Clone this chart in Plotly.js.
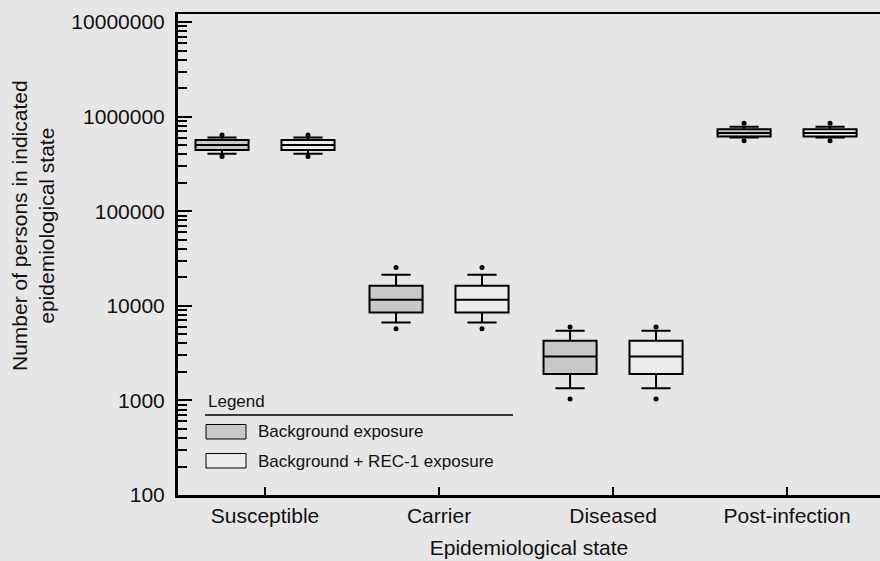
<!DOCTYPE html>
<html>
<head>
<meta charset="utf-8">
<script src="https://cdn.plot.ly/plotly-3.0.1.min.js"></script>
<style>html,body{margin:0;padding:0;background:#e6e6e6;}#chart{width:880px;height:561px;}</style>
</head>
<body>
<div id="chart"></div>
<script>
// Data
const categories = ['Susceptible', 'Carrier', 'Diseased', 'Post-infection'];
const seriesNames = ['Background exposure', 'Background + REC-1 exposure'];
const q1 = [445000, 8510, 1905, 615000];
const median = [502000, 11600, 2920, 673000];
const q3 = [567000, 16300, 4280, 736000];
const lowerWhisker = [406000, 6680, 1343, 600000];
const upperWhisker = [600000, 21300, 5460, 783000];
const lowOutlier = [378000, 5730, 1038, 555000];
const highOutlier = [641000, 25400, 5970, 851000];
const yTickVals = [100, 1000, 10000, 100000, 1000000, 10000000];
const yTickText = ['100', '1000', '10000', '100000', '1000000', '10000000'];

const fills = ['#c8c8c8', '#ebebeb'];
const offsets = [-0.247, 0.247];
const FONT = 'Liberation Sans, Arial, Helvetica, sans-serif';

const traces = [];
seriesNames.forEach((name, s) => {
  const xs = categories.map((c, i) => i + offsets[s]);
  traces.push({
    type: 'box', name: name, x: xs,
    q1: q1, median: median, q3: q3,
    lowerfence: lowerWhisker, upperfence: upperWhisker,
    width: 0.305, whiskerwidth: 0.55, boxpoints: false,
    fillcolor: fills[s], line: {color: '#000', width: 2},
    hoverinfo: 'skip', showlegend: false
  });
  traces.push({
    type: 'scatter', mode: 'markers', x: xs.concat(xs),
    y: lowOutlier.concat(highOutlier),
    marker: {color: '#000', size: 5}, hoverinfo: 'skip', showlegend: false
  });
});

// pixel helpers for legend placement (plot area 178..880 x 14..495)
const px = x => (x - 178) / 702;
const py = y => (495 - y) / 481;

const layout = {
  width: 880, height: 561,
  paper_bgcolor: '#e6e6e6', plot_bgcolor: '#e6e6e6',
  margin: {l: 178, r: 0, t: 14, b: 66},
  font: {family: FONT, size: 21, color: '#111'},
  showlegend: false,
  xaxis: {
    range: [-0.5, 3.534], tickvals: [0, 1, 2, 3], ticktext: categories,
    ticks: 'inside', ticklen: 8, tickwidth: 2, tickcolor: '#000',
    showline: true, linewidth: 2.5, linecolor: '#000', mirror: true,
    showgrid: false, zeroline: false,
    tickfont: {size: 21},
    title: {text: 'Epidemiological state', font: {size: 21}, standoff: 15}
  },
  yaxis: {
    type: 'log', range: [2, 7.085],
    tickvals: yTickVals, ticktext: yTickText,
    ticks: 'inside', ticklen: 14, tickwidth: 2, tickcolor: '#000',
    minor: {ticks: 'inside', ticklen: 9, tickwidth: 2, tickcolor: '#000', dtick: 'D1', showgrid: false},
    showline: true, linewidth: 3, linecolor: '#000',
    showgrid: false, zeroline: false,
    tickfont: {size: 21}, ticklabelstandoff: 6
  },
  shapes: [
    {type: 'line', xref: 'paper', yref: 'paper', x0: px(205), x1: px(513), y0: py(415), y1: py(415), line: {color: '#000', width: 1.5}},
    {type: 'rect', xref: 'paper', yref: 'paper', x0: px(206), x1: px(246), y0: py(439), y1: py(424.5), fillcolor: fills[0], line: {color: '#000', width: 1}},
    {type: 'rect', xref: 'paper', yref: 'paper', x0: px(206), x1: px(246), y0: py(468), y1: py(453.5), fillcolor: fills[1], line: {color: '#000', width: 1}}
  ],
  annotations: [
    {xref: 'paper', yref: 'paper', x: px(206), y: py(401), xanchor: 'left', yanchor: 'middle', text: 'Legend', showarrow: false, font: {size: 17, color: '#111'}},
    {xref: 'paper', yref: 'paper', x: px(256), y: py(432), xanchor: 'left', yanchor: 'middle', text: seriesNames[0], showarrow: false, font: {size: 17, color: '#111'}},
    {xref: 'paper', yref: 'paper', x: px(256), y: py(461), xanchor: 'left', yanchor: 'middle', text: seriesNames[1], showarrow: false, font: {size: 17, color: '#111'}},
    {xref: 'paper', yref: 'paper', x: px(33), y: py(226), xanchor: 'center', yanchor: 'middle', textangle: -90,
     text: 'Number of persons in indicated<br>epidemiological state', showarrow: false, font: {size: 21, color: '#111'}}
  ]
};

Plotly.newPlot('chart', traces, layout, {staticPlot: true, displayModeBar: false});
</script>
</body>
</html>
